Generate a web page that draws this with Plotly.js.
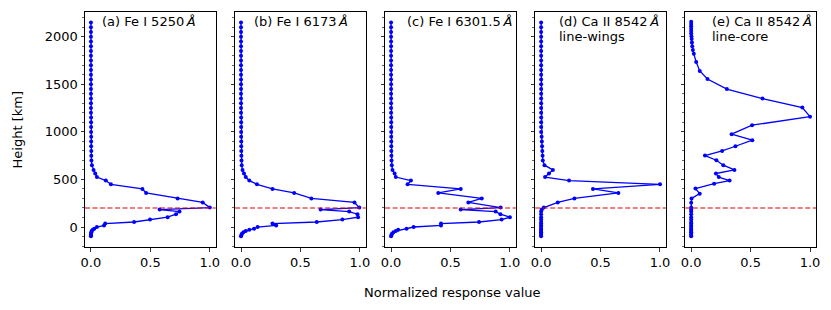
<!DOCTYPE html>
<html>
<head>
<meta charset="utf-8">
<script src="https://cdn.plot.ly/plotly-3.0.1.min.js"></script>
<style>html,body{margin:0;padding:0;background:#fff;}#chart{width:831px;height:310px;}</style>
</head>
<body>
<div id="chart"></div>
<script>
// Shared height grid (km) for panels a-d
const heightsPhot = [2150,2100,2050,2000,1950,1900,1850,1800,1750,1700,
  1650,1600,1550,1500,1450,1400,1350,1300,1250,1200,
  1150,1100,1050,1000,950,900,850,800,750,700,
  650,600,562,525,488,449,400,358,300,258,
  204,183,162,135,103,78,53,36,17,0,
  -17,-30,-42,-55,-70,-85,-98];

const respA = [0,0,0,0,0,0,0,0,0,0,
  0,0,0,0,0,0,0,0,0,0,
  0.001,0.001,0.001,0.001,0.002,0.002,0.002,0.003,0.003,0.004,
  0.008,0.022,0.036,0.05,0.125,0.168,0.433,0.464,0.729,0.94,
  1.0,0.578,0.745,0.715,0.645,0.497,0.363,0.12,0.11,0.05,
  0.028,0.015,0.006,0.003,0.001,0,0];

const respB = [0,0,0,0,0,0,0,0,0,0,
  0,0,0,0,0,0,0,0,0,0,
  0.001,0.001,0.001,0.001,0.001,0.002,0.002,0.002,0.003,0.004,
  0.006,0.013,0.025,0.04,0.07,0.134,0.265,0.447,0.592,0.955,
  0.995,0.67,0.91,0.98,0.985,0.853,0.637,0.265,0.296,0.14,
  0.11,0.07,0.04,0.02,0.008,0.003,0];

const respC = [0,0,0,0,0,0,0,0,0,0,
  0,0,0,0,0,0,0,0,0,0,
  0.001,0.001,0.001,0.001,0.001,0.002,0.002,0.002,0.003,0.004,
  0.006,0.012,0.03,0.04,0.167,0.139,0.586,0.397,0.763,0.65,
  0.922,0.586,0.88,0.92,1.0,0.93,0.74,0.42,0.42,0.19,
  0.13,0.06,0.04,0.02,0.008,0.003,0];

const respD = [0,0,0,0,0,0,0,0,0,0,
  0,0,0,0,0,0,0,0,0,0,
  0,0,0,0,0.004,0.006,0.008,0.01,0.012,0.014,
  0.028,0.099,0.066,0.033,0.235,1.0,0.436,0.65,0.28,0.14,
  0.023,0.005,0,0,0,0,0,0,0,0,
  0,0,0,0,0,0,0];

// Height grid (km) and response for panel e
const heightsCore = [2158,2135,2110,2085,2060,2035,2005,1975,1940,1900,
  1860,1820,1735,1640,1555,1450,1350,1255,1160,1070,
  976,913,849,800,751,702,650,600,562,525,
  488,455,404,351,300,256,204,183,162,135,
  103,78,53,36,17,0,-17,-30,-42,-55,
  -70,-85,-98];
const respE = [0,0,0,0,0,0,0.002,0.004,0.006,0.009,
  0.014,0.022,0.042,0.072,0.137,0.3,0.6,0.935,1.0,0.512,
  0.34,0.514,0.372,0.26,0.116,0.212,0.27,0.364,0.208,0.232,
  0.323,0.193,0.036,0.072,0.003,0,0,0,0,0,
  0,0,0,0,0,0,0,0,0,0,
  0,0,0];

const refHeight = 200;
const panelLine1 = ['(a) Fe I 5250\u2009<i>Å</i>', '(b) Fe I 6173\u2009<i>Å</i>', '(c) Fe I 6301.5\u2009<i>Å</i>', '(d) Ca II 8542\u2009<i>Å</i>', '(e) Ca II 8542\u2009<i>Å</i>'];
const panelLine2 = ['', '', '', 'line-wings', 'line-core'];
const xTickVals = [0, 0.5, 1];
const xTickText = ['0.0', '0.5', '1.0'];
const yLabel = 'Height [km]';
const xLabel = 'Normalized response value';

const series = [
  {h: heightsPhot, r: respA},
  {h: heightsPhot, r: respB},
  {h: heightsPhot, r: respC},
  {h: heightsPhot, r: respD},
  {h: heightsCore, r: respE}
];

const FONT = 'DejaVu Sans, sans-serif';
const FS = 13;
const W = 831, H = 310;
const ml = 85, mr = 15.3, mt = 12, mb = 63.3;
const pw = W - ml - mr;  // plotting width
const ph = H - mt - mb;
const panelW = 130.7, step = 150;
const labelLeft = [15, 17.3, 20, 21.7, 24.3];

const data = [];
const layout = {
  width: W, height: H,
  margin: {l: ml, r: mr, t: mt, b: mb, pad: 0},
  paper_bgcolor: '#fff', plot_bgcolor: '#fff',
  font: {family: FONT, size: FS, color: '#000'},
  showlegend: false,
  shapes: [], annotations: []
};

series.forEach((s, i) => {
  const n = i + 1;
  const xa = 'x' + (n === 1 ? '' : n), ya = 'y' + (n === 1 ? '' : n);
  data.push({
    type: 'scatter', mode: 'lines+markers',
    x: s.r, y: s.h, xaxis: xa, yaxis: ya,
    line: {color: '#0000ff', width: 1.3},
    marker: {color: '#0000ff', size: 4},
    hoverinfo: 'skip'
  });
  const d0 = (step * i) / pw, d1 = (step * i + panelW) / pw;
  layout['xaxis' + (n === 1 ? '' : n)] = {
    domain: [d0, d1], anchor: ya, range: [-0.05, 1.05],
    tickvals: xTickVals, ticktext: xTickText,
    ticks: 'outside', ticklen: 3.5, tickwidth: 0.8, tickcolor: '#000',
    showline: true, mirror: true, linecolor: '#000', linewidth: 1,
    showgrid: false, zeroline: false,
    tickfont: {family: FONT, size: FS, color: '#000'}
  };
  layout['yaxis' + (n === 1 ? '' : n)] = {
    domain: [0, 1], anchor: xa, range: [-210, 2260],
    tick0: 0, dtick: 500,
    ticks: 'outside', ticklen: 3.5, tickwidth: 0.8, tickcolor: '#000',
    minor: {dtick: 100, ticks: 'outside', ticklen: 2, tickwidth: 0.6, tickcolor: '#000', showgrid: false},
    showticklabels: i === 0,
    showline: true, mirror: true, linecolor: '#000', linewidth: 1,
    showgrid: false, zeroline: false,
    tickfont: {family: FONT, size: FS, color: '#000'}
  };
  layout.shapes.push({
    type: 'line', xref: xa + ' domain', yref: ya,
    x0: 0, x1: 1, y0: refHeight, y1: refHeight,
    line: {color: '#e00000', width: 1.2, dash: '5px,2.5px'}, layer: 'above'
  });
  layout.annotations.push({
    xref: xa + ' domain', yref: ya + ' domain',
    x: labelLeft[i] / panelW, y: (ph - (21.7 - mt)) / ph,
    xanchor: 'left', yanchor: 'middle', showarrow: false,
    text: panelLine1[i], font: {family: FONT, size: FS, color: '#000'}
  });
  if (panelLine2[i]) {
    layout.annotations.push({
      xref: xa + ' domain', yref: ya + ' domain',
      x: labelLeft[i] / panelW, y: (ph - (36.5 - mt)) / ph,
      xanchor: 'left', yanchor: 'middle', showarrow: false,
      text: panelLine2[i], font: {family: FONT, size: FS, color: '#000'}
    });
  }
});

layout.annotations.push({
  xref: 'paper', yref: 'paper',
  x: (17.3 - ml) / pw, y: (H - mb - 130) / ph,
  xanchor: 'center', yanchor: 'middle', textangle: -90, showarrow: false,
  text: yLabel, font: {family: FONT, size: FS, color: '#000'}
});
layout.annotations.push({
  xref: 'paper', yref: 'paper',
  x: (452 - ml) / pw, y: (H - mb - 292) / ph,
  xanchor: 'center', yanchor: 'middle', showarrow: false,
  text: xLabel, font: {family: FONT, size: FS, color: '#000'}
});

Plotly.newPlot('chart', data, layout, {staticPlot: true, displayModeBar: false});
</script>
</body>
</html>
